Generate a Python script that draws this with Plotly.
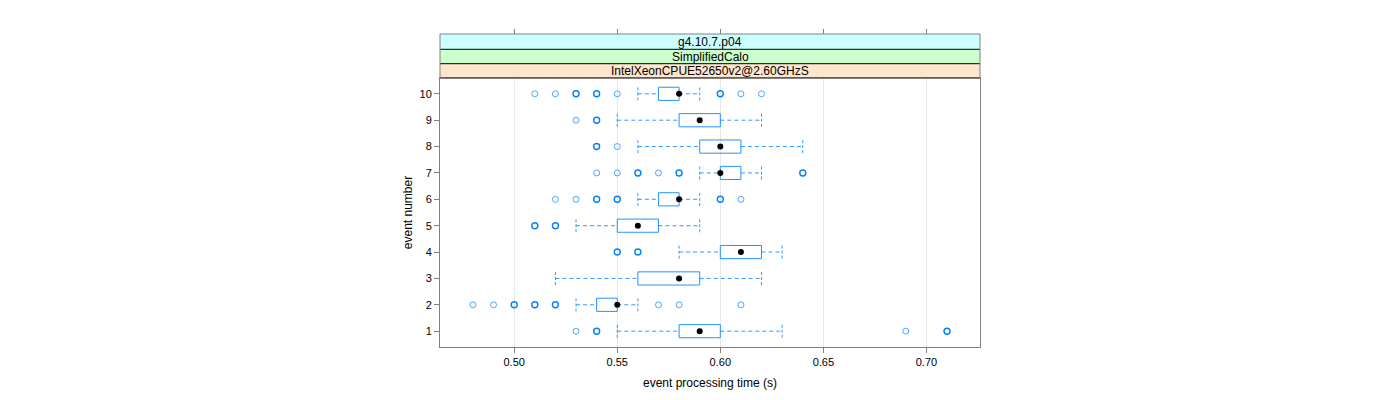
import plotly.graph_objects as go

# ---- data ----
events = [1, 2, 3, 4, 5, 6, 7, 8, 9, 10]
q1 = [0.58, 0.54, 0.56, 0.60, 0.55, 0.57, 0.60, 0.59, 0.58, 0.57]
median = [0.59, 0.55, 0.58, 0.61, 0.56, 0.58, 0.60, 0.60, 0.59, 0.58]
q3 = [0.60, 0.55, 0.59, 0.62, 0.57, 0.58, 0.61, 0.61, 0.60, 0.58]
whisk_lo = [0.55, 0.53, 0.52, 0.58, 0.53, 0.56, 0.59, 0.56, 0.55, 0.56]
whisk_hi = [0.63, 0.56, 0.62, 0.63, 0.59, 0.59, 0.62, 0.64, 0.62, 0.59]
outliers = [
    [0.53, 0.54, 0.69, 0.71],
    [0.48, 0.49, 0.50, 0.51, 0.52, 0.57, 0.58, 0.61],
    [],
    [0.55, 0.56],
    [0.51, 0.52],
    [0.52, 0.53, 0.54, 0.55, 0.60, 0.61],
    [0.54, 0.55, 0.56, 0.57, 0.58, 0.64],
    [0.54, 0.55],
    [0.53, 0.54],
    [0.51, 0.52, 0.53, 0.54, 0.55, 0.60, 0.61, 0.62],
]
outlier_counts = [
    [1, 2, 1, 2],
    [1, 1, 2, 2, 2, 1, 1, 1],
    [],
    [2, 2],
    [2, 2],
    [1, 1, 2, 2, 2, 1],
    [1, 1, 2, 1, 2, 2],
    [2, 1],
    [1, 2],
    [1, 1, 2, 2, 1, 2, 1, 1],
]
strip_labels = ["g4.10.7.p04", "SimplifiedCalo", "IntelXeonCPUE52650v2@2.60GHzS"]
strip_colors = ["#ccffff", "#ccffcc", "#ffe5cc"]
x_ticks = [0.50, 0.55, 0.60, 0.65, 0.70]

BLUE = "#0080ff"
FONT = "Liberation Sans, Arial, sans-serif"
H = 0.25  # half box height in event units

fig = go.Figure()

# boxes
bx, by = [], []
for e, a, b in zip(events, q1, q3):
    bx += [a, b, b, a, a, None]
    by += [e - H, e - H, e + H, e + H, e - H, None]
fig.add_trace(go.Scatter(x=bx, y=by, mode="lines", line=dict(color=BLUE, width=1),
                         opacity=0.85, hoverinfo="skip", showlegend=False))

# whiskers
wx, wy, cx, cy = [], [], [], []
for e, lo, a, b, hi in zip(events, whisk_lo, q1, q3, whisk_hi):
    wx += [lo, a, None, b, hi, None]
    wy += [e, e, None, e, e, None]
    cx += [lo, lo, None, hi, hi, None]
    cy += [e - H, e + H, None, e - H, e + H, None]
fig.add_trace(go.Scatter(x=wx, y=wy, mode="lines",
                         line=dict(color=BLUE, width=1, dash="4px,3px"),
                         opacity=0.8, hoverinfo="skip", showlegend=False))
fig.add_trace(go.Scatter(x=cx, y=cy, mode="lines",
                         line=dict(color=BLUE, width=1, dash="3px,2px"),
                         opacity=0.8, hoverinfo="skip", showlegend=False))

# outliers
ox1, oy1, ox2, oy2 = [], [], [], []
for e, vals, cnts in zip(events, outliers, outlier_counts):
    for v, c in zip(vals, cnts):
        if c > 1:
            ox2.append(v); oy2.append(e)
        else:
            ox1.append(v); oy1.append(e)
fig.add_trace(go.Scatter(x=ox1, y=oy1, mode="markers",
                         marker=dict(symbol="circle-open", size=6, color="#4da6ff",
                                     line=dict(width=1)),
                         hoverinfo="skip", showlegend=False))
fig.add_trace(go.Scatter(x=ox2, y=oy2, mode="markers",
                         marker=dict(symbol="circle-open", size=6, color=BLUE,
                                     line=dict(width=1.4)),
                         hoverinfo="skip", showlegend=False))

# medians
fig.add_trace(go.Scatter(x=median, y=events, mode="markers",
                         marker=dict(symbol="circle", size=6, color="black"),
                         hoverinfo="skip", showlegend=False))

# invisible trace for top tick axis
fig.add_trace(go.Scatter(x=[median[0]], y=[events[0]], xaxis="x2", mode="markers",
                         marker=dict(opacity=0), hoverinfo="skip", showlegend=False))

# geometry (page has an 8px body margin)
top_px, bot_px = 26, 61
plot_h = 400 - top_px - bot_px
panel_top = 70
dom_top = (400 - bot_px - panel_top) / plot_h
strip_edges = [1.0, (400 - bot_px - 41.3) / plot_h, (400 - bot_px - 55.7) / plot_h, dom_top]

shapes = []
annotations = []
for i, (lab, col) in enumerate(zip(strip_labels, strip_colors)):
    y1, y0 = strip_edges[i], strip_edges[i + 1]
    shapes.append(dict(type="rect", xref="paper", yref="paper", x0=0, x1=1, y0=y0, y1=y1,
                       fillcolor=col, line=dict(width=0), layer="below"))
    annotations.append(dict(text=lab, xref="paper", yref="paper", x=0.5, y=(y0 + y1) / 2,
                            showarrow=False, font=dict(family=FONT, size=12, color="black"),
                            xanchor="center", yanchor="middle"))
for yv in strip_edges[1:]:
    shapes.append(dict(type="line", xref="paper", yref="paper", x0=0, x1=1, y0=yv, y1=yv,
                       line=dict(color="black", width=1)))
shapes.append(dict(type="rect", xref="paper", yref="paper", x0=0, x1=1, y0=dom_top, y1=1,
                   line=dict(color="#808080", width=1), fillcolor="rgba(0,0,0,0)"))

fig.update_layout(
    width=1400, height=400,
    margin=dict(l=432, r=428, t=top_px, b=bot_px),
    plot_bgcolor="white", paper_bgcolor="white",
    font=dict(family=FONT, size=11, color="black"),
    shapes=shapes, annotations=annotations,
    xaxis=dict(range=[0.464, 0.726], tickvals=x_ticks,
               ticktext=["%.2f" % t for t in x_ticks],
               ticks="outside", ticklen=5, tickcolor="#808080",
               showline=True, linecolor="#808080", linewidth=1, mirror=True,
               showgrid=True, gridcolor="#e8e8e8", zeroline=False,
               title=dict(text="event processing time (s)", font=dict(size=12), standoff=11),
               tickfont=dict(size=11)),
    xaxis2=dict(overlaying="x", matches="x", side="top", anchor="free", position=1.0,
                tickvals=x_ticks, ticks="outside", ticklen=5, tickcolor="#808080",
                showticklabels=False, showline=False, showgrid=False, zeroline=False),
    yaxis=dict(range=[0.4, 10.6], domain=[0, dom_top], tickvals=events,
               ticktext=[str(e) for e in events],
               ticks="outside", ticklen=5, tickcolor="#808080",
               showline=True, linecolor="#808080", linewidth=1, mirror=True,
               showgrid=False, zeroline=False,
               title=dict(text="event number", font=dict(size=12), standoff=4),
               tickfont=dict(size=11)),
)

fig.write_html("out.html")
